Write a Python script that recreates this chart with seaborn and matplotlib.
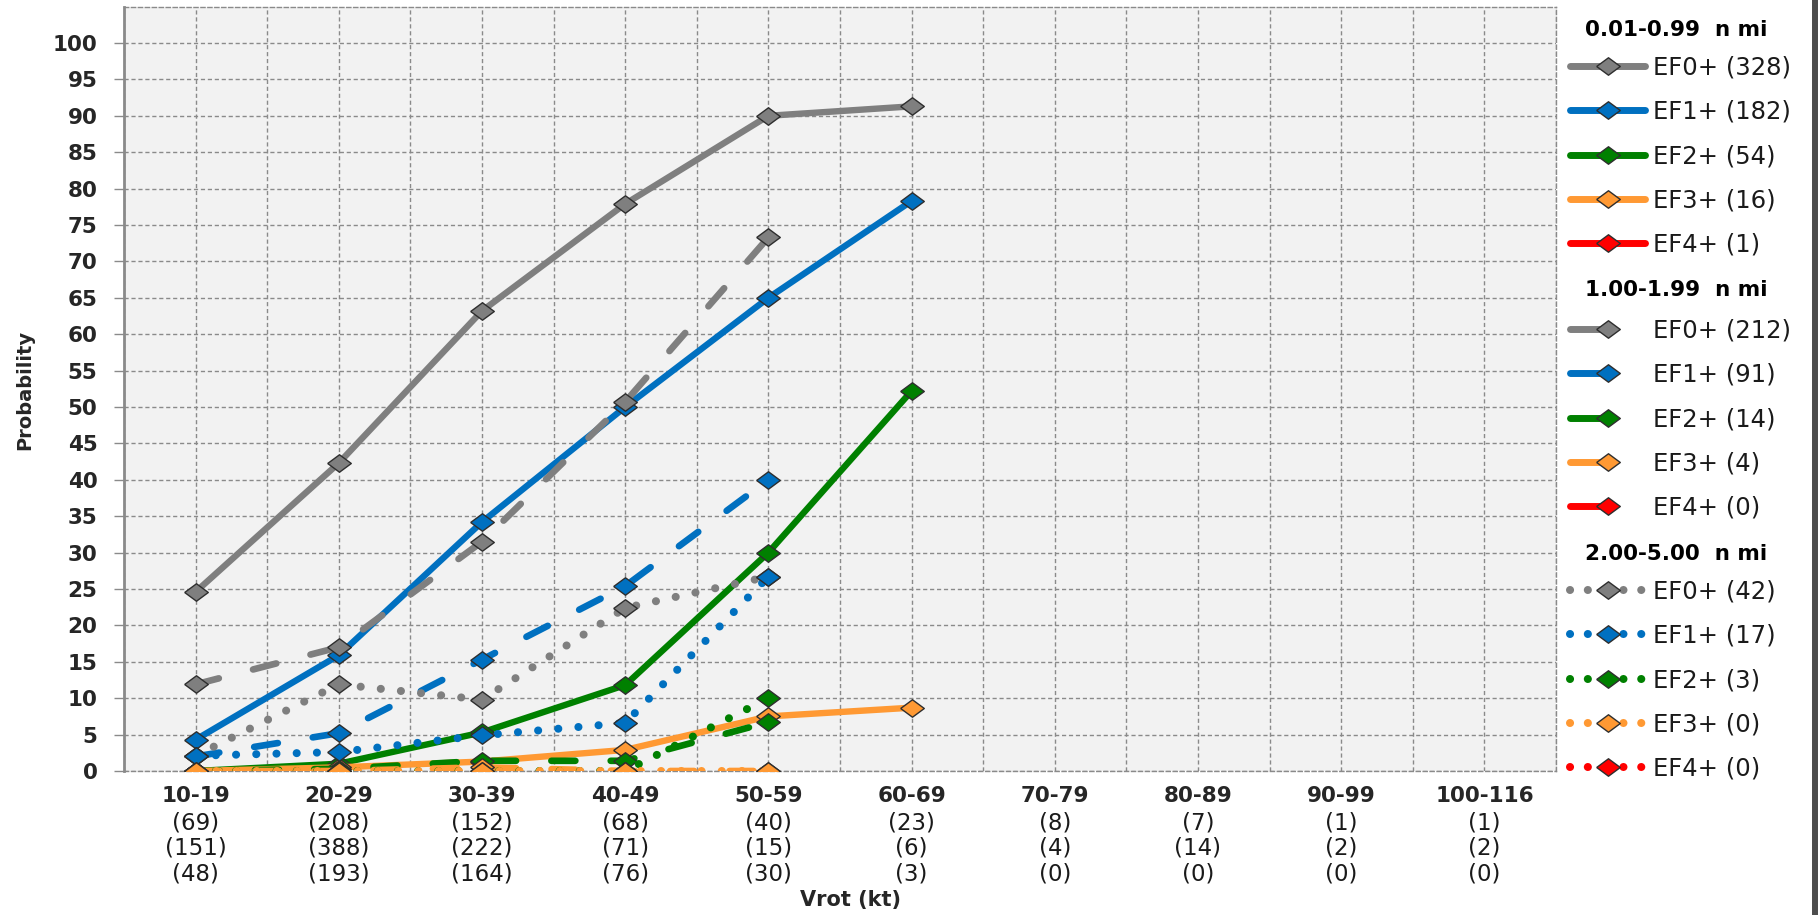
import numpy as np
import pandas as pd
import matplotlib
matplotlib.use("Agg")
import matplotlib.pyplot as plt
import matplotlib.transforms as mtransforms
from matplotlib.lines import Line2D
import seaborn as sns

# ---------------- data ----------------
categories = ["10-19", "20-29", "30-39", "40-49", "50-59",
              "60-69", "70-79", "80-89", "90-99", "100-116"]
n_band1 = [69, 208, 152, 68, 40, 23, 8, 7, 1, 1]
n_band2 = [151, 388, 222, 71, 15, 6, 4, 14, 2, 2]
n_band3 = [48, 193, 164, 76, 30, 3, 0, 0, 0, 0]

band_titles = ["0.01-0.99  n mi", "1.00-1.99  n mi", "2.00-5.00  n mi"]
levels = ["EF0+", "EF1+", "EF2+", "EF3+", "EF4+"]
counts_band1 = [328, 182, 54, 16, 1]
counts_band2 = [212, 91, 14, 4, 0]
counts_band3 = [42, 17, 3, 0, 0]

# 0.01-0.99 n mi (solid)
b1_ef0 = [24.6, 42.3, 63.2, 77.9, 90.0, 91.3]
b1_ef1 = [4.3, 15.9, 34.2, 50.0, 65.0, 78.3]
b1_ef2 = [0.0, 1.0, 5.3, 11.8, 30.0, 52.2]
b1_ef3 = [0.0, 0.5, 1.3, 2.9, 7.5, 8.7]
b1_ef4 = []
# 1.00-1.99 n mi (dashed)
b2_ef0 = [11.9, 17.0, 31.5, 50.7, 73.3]
b2_ef1 = [2.0, 5.2, 15.3, 25.4, 40.0]
b2_ef2 = [0.0, 0.3, 1.4, 1.4, 6.7]
b2_ef3 = [0.0, 0.0, 0.5, 0.0, 0.0]
b2_ef4 = []
# 2.00-5.00 n mi (dotted)
b3_ef0 = [2.1, 11.9, 9.8, 22.4, 26.7]
b3_ef1 = [2.1, 2.6, 4.9, 6.6, 26.7]
b3_ef2 = [0.0, 0.0, 0.0, 0.0, 10.0]
b3_ef3 = [0.0, 0.0, 0.0, 0.0, 0.0]
b3_ef4 = []

bands = [
    ([b1_ef0, b1_ef1, b1_ef2, b1_ef3, b1_ef4], counts_band1, "solid"),
    ([b2_ef0, b2_ef1, b2_ef2, b2_ef3, b2_ef4], counts_band2, "dashed"),
    ([b3_ef0, b3_ef1, b3_ef2, b3_ef3, b3_ef4], counts_band3, "dotted"),
]

# ---------------- style ----------------
sns.set_theme(style="white")
plt.rcParams["font.family"] = ["DejaVu Sans"]
plt.rcParams["text.color"] = "black"

colors = ["#7f7f7f", "#0070c0", "#008000", "#ff9933", "#ff0000"]
line_styles = {
    "solid": dict(linestyle="-", linewidth=4.6),
    "dashed": dict(linestyle=(0, (3.6, 5.3)), linewidth=4.8),
    "dotted": dict(linestyle=(0, (0.01, 2.5)), linewidth=5.8),
}
legend_styles = {
    "solid": dict(linestyle="-", linewidth=5.0),
    "dashed": dict(linestyle=(0, (4.6, 9.0)), linewidth=5.0),
    "dotted": dict(linestyle=(0, (0.01, 2.2)), linewidth=5.8),
}
diamond = [(-1, 0), (0, 0.74), (1, 0), (0, -0.74), (-1, 0)]
marker_kw = dict(marker=diamond, markersize=17, markeredgecolor="#2e2e2e",
                 markeredgewidth=1.0)
grid_kw = dict(color="#8a8a8a", linewidth=1.0, linestyle=(0, (3, 2)))

fig = plt.figure(figsize=(18.18, 9.15), dpi=100)
ax = fig.add_axes([124 / 1818, 144 / 915, 1432 / 1818, 764.4 / 915])
ax.set_facecolor("#f2f2f2")

legend_handles = []
z = 3
for series_list, counts, style in bands:
    handles = []
    for lvl, vals, col in zip(levels, series_list, colors):
        h = Line2D([], [], color=col, dash_capstyle="round", solid_capstyle="round",
                   **legend_styles[style], **marker_kw)
        handles.append(h)
        if len(vals) == 0:
            continue
        df = pd.DataFrame({"pos": np.arange(len(vals)), "prob": vals})
        sns.lineplot(data=df, x="pos", y="prob", ax=ax, color=col, errorbar=None,
                     dash_capstyle="round", solid_capstyle="round", zorder=z,
                     **line_styles[style], **marker_kw)
        z += 0.1
    legend_handles.append(handles)

# ---------------- axes ----------------
ax.set_xlim(-0.5, 9.5)
ax.set_ylim(0, 105)
ax.set_xticks(range(len(categories)))
ax.set_xticklabels(categories, fontweight="bold", fontsize=15.5)
ax.set_xticks(np.arange(-0.5, 10, 1.0), minor=True)
ax.set_yticks(range(0, 101, 5))
ax.set_yticklabels([str(v) for v in range(0, 101, 5)], fontweight="bold", fontsize=15.5)
ax.tick_params(axis="x", which="both", length=0, pad=11)
ax.tick_params(axis="y", length=7, width=1, color="#8a8a8a", pad=12, left=True)
ax.grid(True, axis="x", which="both", **grid_kw)
ax.grid(True, axis="y", which="major", **grid_kw)
ax.set_axisbelow(True)
for side in ["top", "right", "bottom"]:
    ax.spines[side].set_visible(True)
    ax.spines[side].set_color("#8a8a8a")
    ax.spines[side].set_linewidth(1.0)
    ax.spines[side].set_linestyle((0, (3, 2)))
ax.spines["left"].set_color("#8a8a8a")
ax.spines["left"].set_linewidth(2.0)

ax.set_xlabel("Vrot (kt)", fontweight="bold", fontsize=15)
ax.xaxis.set_label_coords(0.507, -0.156)
ax.set_ylabel("Probability", fontweight="bold", fontsize=14)
ax.yaxis.set_label_coords(-0.063, 0.498)

# sample counts under each category
trans = mtransforms.blended_transform_factory(ax.transData, fig.transFigure)
for row_y, ns in zip([0.1005, 0.0732, 0.0448], [n_band1, n_band2, n_band3]):
    for i, n in enumerate(ns):
        ax.text(i, row_y, f"({n})", transform=trans, ha="center", va="center",
                fontsize=16.5, color="#1a1a1a")

# legends: bold group headings + entry blocks
heading_y = [1 - 30 / 915, 1 - 290 / 915, 1 - 554 / 915]
entry_top = [1 - 55.8 / 915, 1 - 318.8 / 915, 1 - 579.8 / 915]
for title, handles, counts, hy, top in zip(band_titles, legend_handles,
                                            [counts_band1, counts_band2, counts_band3],
                                            heading_y, entry_top):
    fig.text(1585 / 1818, hy, title, ha="left", va="center", fontsize=15.5,
             fontweight="bold", color="black")
    labels = [f"{lvl} ({c})" for lvl, c in zip(levels, counts)]
    leg = fig.legend(handles=handles, labels=labels,
                     loc="upper left", bbox_to_anchor=(0.8636, top),
                     bbox_transform=fig.transFigure, frameon=False, fontsize=17.5,
                     handlelength=3.1, handletextpad=0.3,
                     labelspacing=0.83, borderpad=0, borderaxespad=0, numpoints=1)
    for t in leg.get_texts():
        t.set_color("#1a1a1a")

fig.add_artist(Line2D([0.9983, 0.9983], [0, 1], transform=fig.transFigure,
                      color="#4d4d4d", linewidth=4.3))

fig.savefig("out.png", dpi=100)
